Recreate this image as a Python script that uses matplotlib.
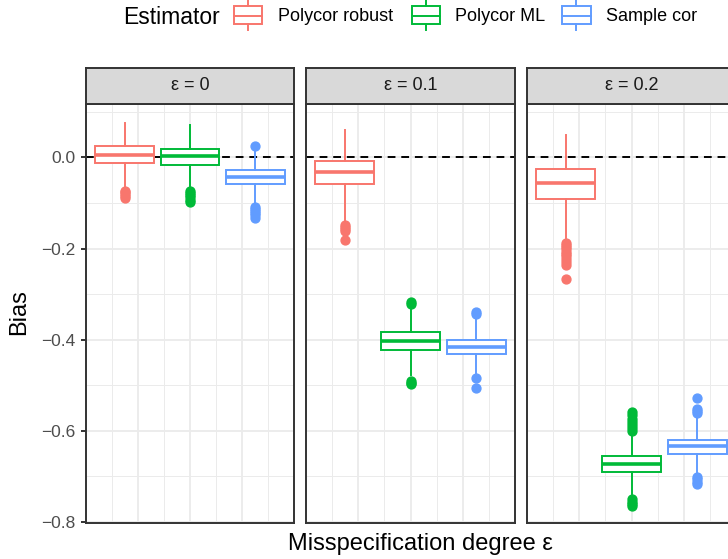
import matplotlib
matplotlib.use("Agg")
import matplotlib.pyplot as plt
from matplotlib.patches import Rectangle
from matplotlib.ticker import FixedLocator

plt.rcParams['font.family'] = ['Liberation Sans', 'DejaVu Sans']

W, H = 728, 559

# facets and estimators
panel_labels = ['ε = 0', 'ε = 0.1', 'ε = 0.2']
estimators = ['Polycor robust', 'Polycor ML', 'Sample cor']
colors = ['#F8766D', '#00BA38', '#619CFF']

# box statistics, one row per panel, columns = estimators
whishi = [[0.075, 0.070, 0.014],
          [0.061, -0.334, -0.352],
          [0.050, -0.607, -0.570]]
q3 = [[0.024, 0.018, -0.027],
      [-0.007, -0.383, -0.400],
      [-0.026, -0.655, -0.619]]
med = [[0.006, 0.003, -0.043],
       [-0.032, -0.403, -0.416],
       [-0.056, -0.672, -0.633]]
q1 = [[-0.012, -0.016, -0.059],
      [-0.059, -0.423, -0.432],
      [-0.091, -0.690, -0.650]]
whislo = [[-0.065, -0.062, -0.100],
          [-0.140, -0.478, -0.474],
          [-0.178, -0.738, -0.692]]
outliers = [
    [[-0.073, -0.077, -0.081, -0.085, -0.090],
     [-0.073, -0.078, -0.083, -0.088, -0.093, -0.099],
     [0.025, -0.110, -0.114, -0.118, -0.122, -0.127, -0.132]],
    [[-0.148, -0.152, -0.157, -0.161, -0.181],
     [-0.318, -0.322, -0.491, -0.494, -0.497],
     [-0.340, -0.344, -0.484, -0.505]],
    [[-0.187, -0.192, -0.197, -0.202, -0.207, -0.212, -0.217, -0.223,
      -0.230, -0.236, -0.266],
     [-0.559, -0.566, -0.573, -0.580, -0.587, -0.594, -0.600,
      -0.750, -0.755, -0.760, -0.765],
     [-0.527, -0.552, -0.556, -0.560, -0.701, -0.706, -0.711, -0.716]],
]

y_major = [-0.8, -0.6, -0.4, -0.2, 0.0]
y_minor = [-0.7, -0.5, -0.3, -0.1, 0.1]

fig = plt.figure(figsize=(W / 100, H / 100), dpi=100)


def px_axes(x0, y0, x1, y1):
    return fig.add_axes([x0 / W, 1 - y1 / H, (x1 - x0) / W, (y1 - y0) / H])


panel_x = [(86, 294), (306, 515), (527, 736)]
top, bottom = 104, 523
strip_top = 68
border = '#333333'
lw = 1.4

for p, (x0, x1) in enumerate(panel_x):
    ax = px_axes(x0, top, x1, bottom)
    ax.set_xlim(-1.59, 1.59)
    ax.set_ylim(-0.802, 0.117)
    ax.xaxis.set_major_locator(FixedLocator([-0.8, 0, 0.8]))
    ax.xaxis.set_minor_locator(FixedLocator([-1.2, -0.4, 0.4, 1.2]))
    ax.yaxis.set_major_locator(FixedLocator(y_major))
    ax.yaxis.set_minor_locator(FixedLocator(y_minor))
    ax.grid(which='major', color='#EBEBEB', lw=1.3)
    ax.grid(which='minor', color='#EBEBEB', lw=0.7)
    ax.set_axisbelow(True)
    ax.tick_params(axis='x', which='both', length=0, labelbottom=False)
    ax.tick_params(axis='y', which='minor', length=0)
    if p == 0:
        ax.tick_params(axis='y', which='major', length=3.6, width=lw,
                       color=border, labelsize=12.5, labelcolor='#4D4D4D', pad=4)
        ax.set_yticklabels([f'{v:.1f}'.replace('-', '\u2212') for v in y_major])
    else:
        ax.tick_params(axis='y', which='major', length=0, labelleft=False)
    for s in ax.spines.values():
        s.set_color(border)
        s.set_linewidth(lw)

    ax.axhline(0, color='black', lw=lw, ls=(0, (4, 3)), zorder=1.5)

    for k in range(3):
        c = colors[k]
        stats = [dict(med=med[p][k], q1=q1[p][k], q3=q3[p][k],
                      whislo=whislo[p][k], whishi=whishi[p][k],
                      fliers=outliers[p][k])]
        ax.bxp(stats, positions=[k - 1], widths=0.9, patch_artist=True,
               showcaps=False, manage_ticks=False,
               boxprops=dict(facecolor='white', edgecolor=c, lw=lw),
               medianprops=dict(color=c, lw=2.6),
               whiskerprops=dict(color=c, lw=lw),
               flierprops=dict(marker='o', markerfacecolor=c,
                               markeredgecolor=c, markersize=6.4))

    # strip
    sx = px_axes(x0, strip_top, x1, top)
    sx.set_facecolor('#D9D9D9')
    sx.set_xticks([])
    sx.set_yticks([])
    for s in sx.spines.values():
        s.set_color(border)
        s.set_linewidth(lw)
    sx.text(0.5, 0.5, panel_labels[p], ha='center', va='center',
            fontsize=13, color='#1A1A1A', transform=sx.transAxes)

fig.text(19 / W, 1 - 312 / H, 'Bias', rotation=90, ha='center', va='center',
         fontsize=17)
fig.text(420 / W, 1 - 544 / H, 'Misspecification degree ε', ha='center',
         va='center', fontsize=17)

# legend drawn in pixel coordinates
lg = fig.add_axes([0, 0, 1, 1], zorder=5)
lg.set_xlim(0, W)
lg.set_ylim(H, 0)
lg.axis('off')
lg.patch.set_alpha(0)
lg.text(123, 17, 'Estimator', ha='left', va='center', fontsize=16.5)
key_x = [233.5, 411.5, 562]
text_x = [278, 455, 606]
for k in range(3):
    c = colors[k]
    kx = key_x[k]
    lg.add_patch(Rectangle((kx, 6), 28.5, 18, facecolor='white',
                           edgecolor=c, lw=lw))
    lg.plot([kx, kx + 28.5], [15.5, 15.5], color=c, lw=lw)
    lg.plot([kx + 14.25, kx + 14.25], [0, 6], color=c, lw=lw)
    lg.plot([kx + 14.25, kx + 14.25], [24, 30], color=c, lw=lw)
    lg.text(text_x[k], 16.5, estimators[k], ha='left', va='center', fontsize=13)

fig.savefig('out.png', dpi=100)
